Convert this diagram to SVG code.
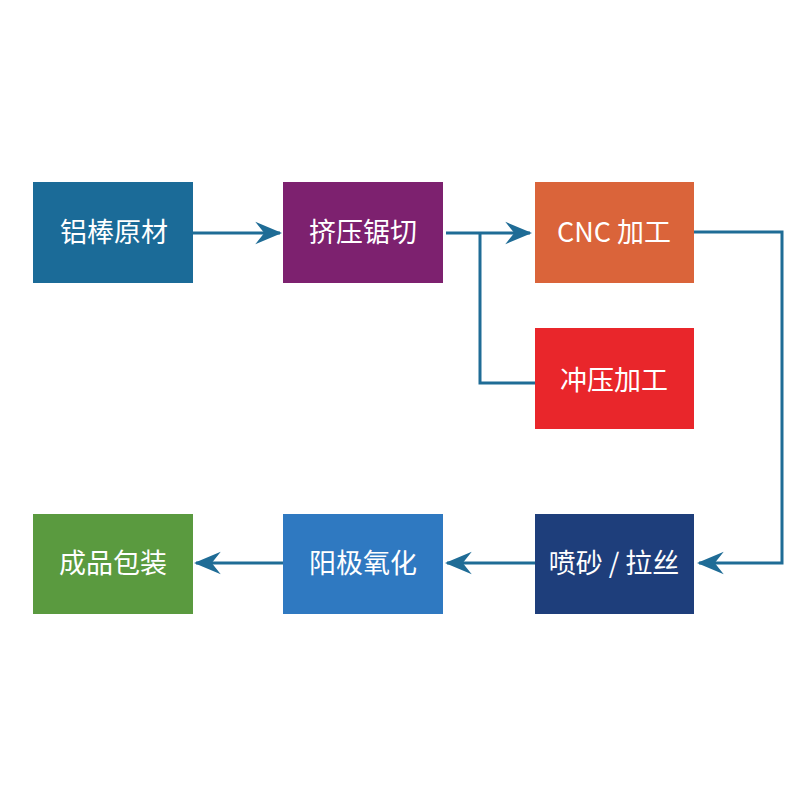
<svg xmlns="http://www.w3.org/2000/svg" width="800" height="800" viewBox="0 0 800 800">
<style>
.lbl{font-family:"Noto Sans CJK SC","Liberation Sans",sans-serif;font-size:27px;fill:#fff;text-anchor:middle;dominant-baseline:central}
.ln{fill:none;stroke:#1f6c96;stroke-width:3}
</style>
<defs>
<marker id="ah" viewBox="0 0 12 12" refX="11" refY="6" markerWidth="9" markerHeight="9" markerUnits="strokeWidth" orient="auto">
<path d="M0,1 L12,6 L0,11 L4,6 z" fill="#1f6c96"/>
</marker>
</defs>
<rect width="800" height="800" fill="#fff"/>
<g id="connectors">
<path class="ln" d="M193,233 H280" marker-end="url(#ah)"/>
<path class="ln" d="M446,233 H530" marker-end="url(#ah)"/>
<path class="ln" d="M480,233 V383 H535"/>
<path class="ln" d="M694,232 H782 V563 H699" marker-end="url(#ah)"/>
<path class="ln" d="M535,563 H447" marker-end="url(#ah)"/>
<path class="ln" d="M283,563 H196" marker-end="url(#ah)"/>
</g>
<g id="n1"><rect x="33" y="182" width="160" height="101" fill="#1b6b98"/><text class="lbl" x="114" y="230">铝棒原材</text></g>
<g id="n2"><rect x="283" y="182" width="160" height="101" fill="#7d216f"/><text class="lbl" x="363" y="230">挤压锯切</text></g>
<g id="n3"><rect x="535" y="182" width="159" height="101" fill="#da643a"/><text class="lbl" x="614" y="230">CNC 加工</text></g>
<g id="n4"><rect x="535" y="328" width="159" height="101" fill="#e9262b"/><text class="lbl" x="614" y="378">冲压加工</text></g>
<g id="n5"><rect x="535" y="514" width="159" height="100" fill="#1e3e7b"/><text class="lbl" x="614" y="561">喷砂 / 拉丝</text></g>
<g id="n6"><rect x="283" y="514" width="160" height="100" fill="#2f79c1"/><text class="lbl" x="363" y="561">阳极氧化</text></g>
<g id="n7"><rect x="33" y="514" width="160" height="100" fill="#5a9a3f"/><text class="lbl" x="113" y="561">成品包装</text></g>
</svg>
